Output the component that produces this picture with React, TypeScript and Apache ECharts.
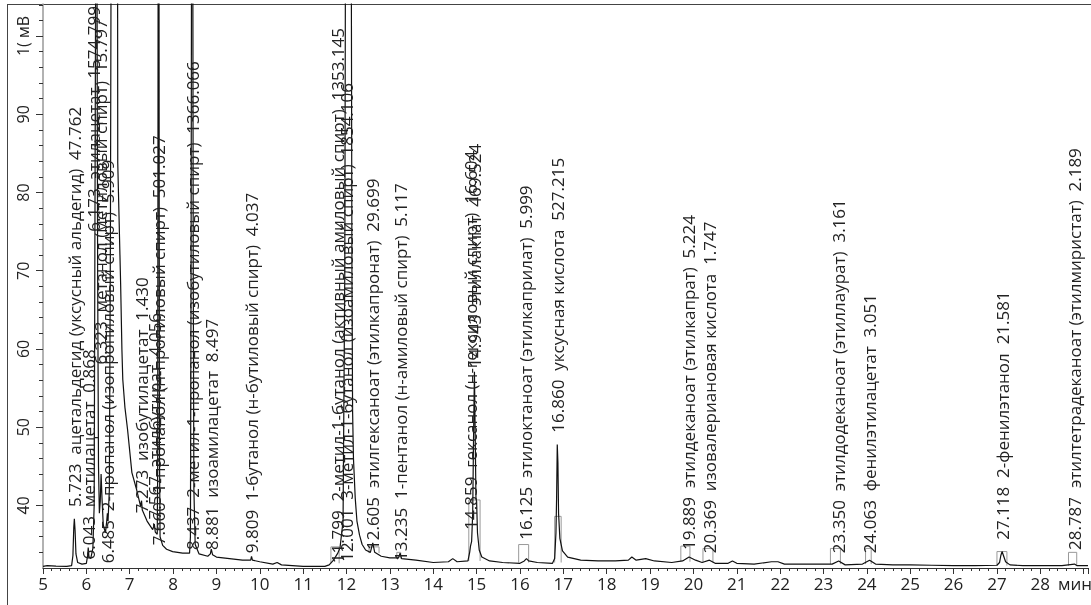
import React, { useEffect, useRef } from "react";
import * as echarts from "echarts";

// chromatogram trace (time, min / signal, mV)
const times = [
  5.0, 5.1, 5.3, 5.55, 5.66, 5.69, 5.71, 5.723, 5.74, 5.76, 5.8, 5.9, 6.0, 6.03, 6.043, 6.06, 6.1, 6.15,
  6.18, 6.2, 6.215, 6.245, 6.26, 6.28, 6.3, 6.32, 6.34, 6.36, 6.39, 6.44, 6.47, 6.485, 6.5, 6.53, 6.555,
  6.57, 6.72, 6.724, 6.79, 6.82, 6.84, 6.89, 6.95, 7.05, 7.16, 7.25, 7.273, 7.29, 7.4, 7.53, 7.567, 7.59,
  7.635, 7.645, 7.655, 7.675, 7.685, 7.7, 7.76, 7.85, 7.99, 8.22, 8.38, 8.4, 8.415, 8.425, 8.455, 8.465,
  8.48, 8.51, 8.6, 8.8, 8.86, 8.881, 8.91, 9.0, 9.3, 9.6, 9.79, 9.809, 9.83, 10.0, 10.3, 10.4, 10.5, 11.0,
  11.5, 11.6, 11.7, 11.799, 11.85, 11.92, 11.96, 11.975, 12.11, 12.125, 12.14, 12.16, 12.2, 12.24, 12.3,
  12.36, 12.44, 12.55, 12.605, 12.65, 12.8, 13.0, 13.2, 13.235, 13.27, 13.6, 14.0, 14.35, 14.45, 14.55,
  14.8, 14.84, 14.859, 14.885, 14.91, 14.93, 14.95, 14.965, 14.985, 15.0, 15.02, 15.06, 15.12, 15.3, 15.6,
  16.0, 16.1, 16.15, 16.2, 16.4, 16.75, 16.8, 16.83, 16.845, 16.86, 16.875, 16.89, 16.92, 16.98, 17.1,
  17.4, 17.8, 18.2, 18.5, 18.58, 18.68, 18.9, 19.1, 19.5, 19.75, 19.9, 20.05, 20.2, 20.37, 20.5, 20.8,
  20.9, 21.0, 21.4, 21.8, 21.95, 22.1, 22.6, 23.2, 23.35, 23.5, 23.9, 24.063, 24.2, 24.6, 25.0, 25.5, 26.0,
  26.5, 27.0, 27.06, 27.09, 27.118, 27.15, 27.2, 27.3, 27.6, 28.0, 28.5, 28.787, 28.85, 29.1,
];
const signal = [
  32.2, 32.3, 32.25, 32.2, 32.3, 33.6, 37.2, 38.3, 36.8, 33.8, 32.7, 32.5, 32.6, 33.6, 34.6, 33.4, 33.2, 34.5,
  40, 80, 110, 110, 70, 45, 39, 40.5, 44, 41, 37.5, 36.5, 38, 39, 38, 42, 75,
  110, 110, 83.8, 68.4, 59.9, 56.1, 52.5, 49.7, 44.2, 42.0, 39.9, 40.6, 39.4, 38.0, 36.9, 37.6, 36.6,
  36.3, 45, 110, 110, 48, 36, 34.9, 34.4, 34.1, 33.9, 33.9, 36, 70, 110, 110, 70,
  42, 35, 33.8, 33.5, 33.8, 34.4, 33.7, 33.4, 33.2, 33.0, 33.0, 33.5, 33.0, 32.8, 32.5, 32.7, 32.4, 32.2,
  32.2, 32.4, 33.0, 33.9, 34.6, 38, 70, 110, 110, 70, 52, 46, 41, 38, 36.2,
  35.0, 34.3, 34.0, 35.2, 34.0, 33.5, 33.3, 33.3, 33.9, 33.2, 33.0, 32.7, 32.8, 33.2, 32.8,
  32.9, 34.0, 34.8, 35.4, 39, 49, 57.1, 50, 41, 40.5, 36.5, 34.3, 33.4, 32.9, 32.7,
  32.6, 32.9, 33.2, 32.9, 32.7, 32.6, 33.2, 36.5, 41, 47.8, 45.5, 39, 35.8, 34.2, 33.4,
  33.0, 32.9, 32.9, 33.0, 33.4, 33.0, 33.2, 32.9, 32.7, 32.9, 33.4, 33.0, 32.7, 33.0, 32.6, 32.6,
  32.9, 32.6, 32.5, 32.8, 32.8, 32.5, 32.5, 32.5, 32.9, 32.4, 32.5, 33.0, 32.5, 32.4, 32.4, 32.35, 32.3,
  32.3, 32.35, 32.7, 33.6, 34.1, 33.6, 32.8, 32.4, 32.3, 32.3, 32.3, 32.5, 32.3, 32.3,
];

// peak annotations
const peakRt = [
  "5.723", "6.043", "6.173", "6.323", "6.485", "7.273", "7.567", "7.660", "8.437", "8.881", "9.809",
  "11.799", "12.001", "12.605", "13.235", "14.859", "14.943", "16.125", "16.860", "19.889", "20.369",
  "23.350", "24.063", "27.118", "28.787",
];
const peakNames = [
  "ацетальдегид (уксусный альдегид)", "метилацетат", "этилацетат", "метанол (метиловый спирт)",
  "2-пропанол (изопропиловый спирт)", "изобутилацетат", "этилбутират", "1-пропанол (н-пропиловый спирт)",
  "2-метил-1-пропанол (изобутиловый спирт)", "изоамилацетат", "1-бутанол (н-бутиловый спирт)",
  "2-метил-1-бутанол (активный амиловый спирт)", "3-метил-1-бутанол (изоамиловый спирт)",
  "этилгексаноат (этилкапронат)", "1-пентанол (н-амиловый спирт)", "гексанол (н-гексиловый спирт)",
  "этиллактат", "этилоктаноат (этилкаприлат)", "уксусная кислота", "этилдеканоат (этилкапрат)",
  "изовалериановая кислота", "этилдодеканоат (этиллаурат)", "фенилэтилацетат", "2-фенилэтанол",
  "этилтетрадеканоат (этилмиристат)",
];
const peakAreas = [
  "47.762", "0.868", "1574.799", "15.797", "5.909", "1.430", "4.056", "501.027", "1366.066", "8.497", "4.037",
  "1353.145", "1854.106", "29.699", "5.117", "16.604", "469.524", "5.999", "527.215", "5.224", "1.747",
  "3.161", "3.051", "21.581", "2.189",
];
const labelLevels = [
  39.8, 33.1, 75.0, 58.0, 32.6, 39.0, 38.2, 34.9, 34.3, 34.3, 33.9,
  32.6, 32.8, 34.3, 32.9, 36.9, 57.6, 35.6, 49.3, 34.3, 33.9,
  33.9, 33.9, 35.6, 34.3,
];

// integration brackets
const bracketStart = [11.64, 12.52, 13.16, 14.82, 15.97, 16.8, 19.71, 20.22, 23.16, 23.97, 27.0, 28.65];
const bracketEnd = [11.83, 12.75, 13.25, 15.08, 16.2, 16.95, 19.92, 20.45, 23.39, 24.1, 27.23, 28.84];
const bracketBase = [32.6, 33.9, 33.2, 32.9, 32.7, 32.7, 32.8, 32.7, 32.5, 32.5, 32.3, 32.3];
const bracketTop = [34.7, 34.7, 34.0, 40.7, 35.0, 38.6, 34.8, 34.5, 34.5, 34.5, 34.1, 34.0];

const yMajorTicks = [40, 50, 60, 70, 80, 90, 100];
const yMinorTicks = [34, 36, 38, 42, 44, 46, 48, 52, 54, 56, 58, 62, 64, 66, 68, 72, 74, 76, 78, 82, 84, 86, 88, 92, 94, 96, 98, 102, 104];

const FONT = "'Open Sans', 'Noto Sans', sans-serif";
const TEXT = "#222";

export default function App() {
  const ref = useRef<HTMLDivElement>(null);
  useEffect(() => {
    const chart = echarts.init(ref.current!, null, { renderer: "svg" });
    const lineData = times.map((t, i) => [t, signal[i]]);
    const bracketData: any[] = [];
    bracketStart.forEach((s, i) => {
      bracketData.push([s, bracketBase[i]], [s, bracketTop[i]], [bracketEnd[i], bracketTop[i]], [bracketEnd[i], bracketBase[i]], null);
    });
    const labelData = peakRt.map((rt, i) => [parseFloat(rt), labelLevels[i]]);
    const labelTexts = peakRt.map((rt, i) => `${rt}  ${peakNames[i]}  ${peakAreas[i]}`);
    chart.setOption({
      animation: false,
      grid: { left: 43, right: 0, top: 4, bottom: 37, containLabel: false },
      xAxis: {
        type: "value",
        min: 5,
        max: 29.1,
        interval: 1,
        axisLine: { show: true, lineStyle: { color: "#333", width: 1 } },
        axisTick: { show: true, length: 6, lineStyle: { color: "#333" } },
        minorTick: { show: true, splitNumber: 5, length: 3, lineStyle: { color: "#333" } },
        splitLine: { show: false },
        minorSplitLine: { show: false },
        axisLabel: {
          fontFamily: FONT,
          fontSize: 17,
          color: TEXT,
          margin: 7,
          formatter: (v: number) => (v >= 29 ? "" : String(v)),
        },
      },
      yAxis: [
        {
          type: "value",
          position: "left",
          min: 32,
          max: 104.1,
          axisLine: { show: true, lineStyle: { color: "#999", width: 1.5 } },
          axisTick: { show: true, customValues: yMajorTicks, length: 7, lineStyle: { color: "#333" } },
          splitLine: { show: false },
          axisLabel: {
            customValues: yMajorTicks,
            rotate: 90,
            margin: 12,
            fontFamily: FONT,
            fontSize: 16,
            color: TEXT,
            formatter: (v: number) => (v === 100 ? "1( мВ" : String(v)),
          },
        },
        {
          type: "value",
          position: "left",
          min: 32,
          max: 104.1,
          axisLine: { show: false },
          axisTick: { show: true, customValues: yMinorTicks, length: 4, lineStyle: { color: "#333" } },
          axisLabel: { show: false },
          splitLine: { show: false },
        },
      ],
      series: [
        {
          type: "line",
          data: bracketData,
          showSymbol: false,
          connectNulls: false,
          lineStyle: { color: "#999", width: 1 },
          z: 2,
          silent: true,
        },
        {
          type: "line",
          data: lineData,
          showSymbol: false,
          clip: true,
          lineStyle: { color: "#111", width: 1.2 },
          z: 3,
          silent: true,
        },
        {
          type: "custom",
          data: labelData,
          encode: { x: 0, y: 1 },
          z: 4,
          silent: true,
          renderItem: (params: any, api: any) => {
            const p = api.coord([api.value(0), api.value(1)]);
            return {
              type: "text",
              x: p[0],
              y: p[1],
              rotation: Math.PI / 2,
              style: {
                text: labelTexts[params.dataIndex],
                fontFamily: FONT,
                fontSize: 17,
                fill: TEXT,
                align: "left",
                verticalAlign: "middle",
              },
            };
          },
        },
      ],
      graphic: [
        { type: "line", shape: { x1: 7.5, y1: 4, x2: 7.5, y2: 605 }, style: { stroke: "#444", lineWidth: 1 } },
        { type: "line", shape: { x1: 7, y1: 4.5, x2: 1091, y2: 4.5 }, style: { stroke: "#444", lineWidth: 1 } },
        {
          type: "text",
          left: 1058,
          top: 575,
          style: { text: "мин", fontFamily: FONT, fontSize: 17, fill: TEXT },
        },
      ],
    });
    return () => chart.dispose();
  }, []);
  return <div ref={ref} style={{ position: "fixed", left: 0, top: 0, width: 1091, height: 605 }} />;
}
